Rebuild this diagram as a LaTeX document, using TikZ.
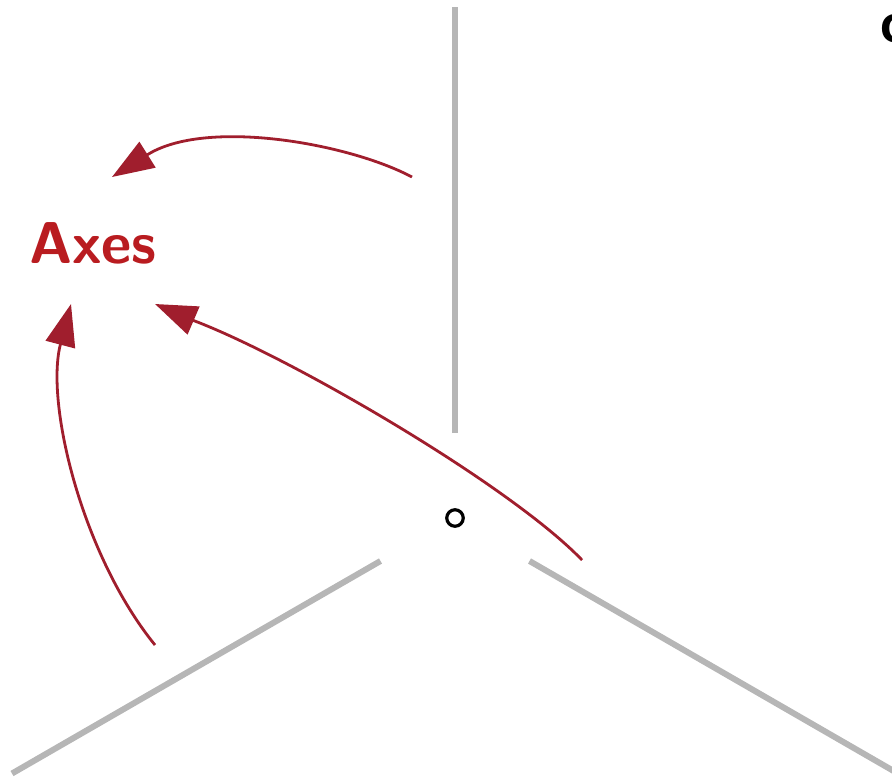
\documentclass[tikz,border=0pt]{standalone}
\usepackage{fontspec}
\newfontfamily\cornerfont{DejaVu Sans}
\usetikzlibrary{arrows.meta}
\definecolor{axisgray}{RGB}{182,182,182}
\definecolor{labelred}{RGB}{185,28,32}
\definecolor{arrowred}{RGB}{160,30,45}
\begin{document}
\begin{tikzpicture}[x=1pt,y=-1pt,
  axisline/.style={draw=axisgray,line width=6pt},
  redarrow/.style={draw=arrowred,line width=2.8pt,-{Triangle[length=42pt,width=30pt]}},
  lbl/.style={text=labelred,font=\sffamily\bfseries\fontsize{59}{60}\selectfont,inner sep=0pt}]
\useasboundingbox (0,0) rectangle (892,780);
% centre and axes
\coordinate (c) at (455,518);
\coordinate (vs) at (455,433);
\coordinate (ve) at (455,7);
\coordinate (ls) at (380.5,561);
\coordinate (le) at (12,773.5);
\coordinate (rs) at (529.5,561);
\coordinate (re) at (898,773.5);
\draw[axisline] (vs) -- (ve);
\draw[axisline] (ls) -- (le);
\draw[axisline] (rs) -- (re);
\node[draw=black,line width=3.2pt,circle,minimum size=16.5pt,inner sep=0pt] (origin) at (c) {};
% label
\node[lbl,anchor=base] (axes) at (93,263) {Axes};
\node[font=\cornerfont\bfseries\fontsize{38}{40}\selectfont,anchor=base west,inner sep=0pt] (corner) at (880,42) {O};
% arrows (curve to the head's base, then the head to the tip)
\coordinate (a1s) at (412,177);
\coordinate (a1b) at (147,155);
\coordinate (a1t) at (112,177);
\coordinate (a2s) at (582,560);
\coordinate (a2b) at (193.5,320.5);
\coordinate (a2t) at (155,304);
\coordinate (a3s) at (155,645);
\coordinate (a3b) at (60.5,344);
\coordinate (a3t) at (71,304);
\draw[redarrow] (a1s) .. controls (348,143) and (205,118) .. (a1b) -- (a1t);
\draw[redarrow] (a2s) .. controls (510,485) and (290,357) .. (a2b) -- (a2t);
\draw[redarrow] (a3s) .. controls (82,555) and (45,403) .. (a3b) -- (a3t);
\end{tikzpicture}
\end{document}
